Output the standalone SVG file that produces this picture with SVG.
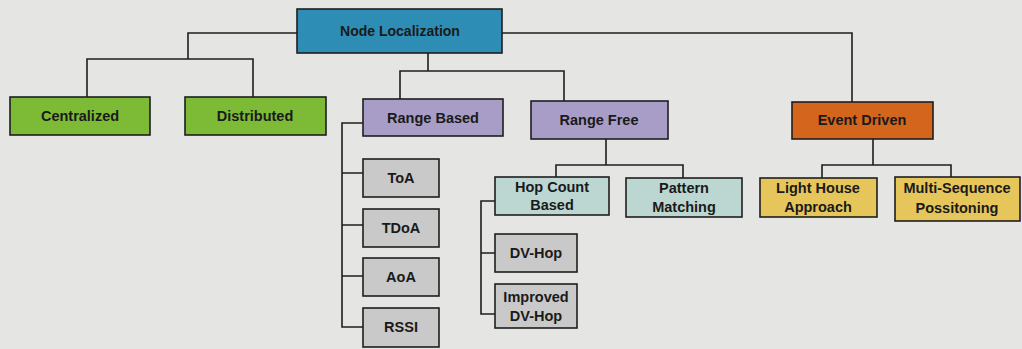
<svg xmlns="http://www.w3.org/2000/svg" width="1022" height="349" viewBox="0 0 1022 349">
<style>
.b{stroke:#1e1e1e;stroke-width:1.6}
.t{font-family:"Liberation Sans",Arial,sans-serif;font-weight:bold;font-size:14.5px;fill:#1a1a1a;text-anchor:middle}
.c{fill:none;stroke:#1e1e1e;stroke-width:1.6}
.blue{fill:#2e8db5}.green{fill:#7dbb36}.purple{fill:#a89dc6}.gray{fill:#c9c9c9}.teal{fill:#bcd6d2}.orange{fill:#d4651c}.yellow{fill:#e6c65a}
</style>
<rect width="1022" height="349" fill="#e5e5e3"/>
<g id="connectors">
<path class="c" d="M297 33H188V59H87V97M188 59H253V97"/>
<path class="c" d="M502 33H852V102"/>
<path class="c" d="M428 53V71H400V99M428 71H564V101"/>
<path class="c" d="M363 123H342V327H363M342 173H363M342 225H363M342 276H363"/>
<path class="c" d="M606 139V165H556V177M606 165H683V178"/>
<path class="c" d="M495 201H481V314H495M481 253H495"/>
<path class="c" d="M873 139V165H822V178M873 165H951V177"/>
</g>
<g id="node-localization"><rect class="b blue" x="297" y="9" width="205" height="44"/><text class="t" x="400" y="36" style="font-size:14px">Node Localization</text></g>
<g id="centralized"><rect class="b green" x="10" y="97" width="140" height="38"/><text class="t" x="80" y="121">Centralized</text></g>
<g id="distributed"><rect class="b green" x="185" y="97" width="141" height="38"/><text class="t" x="255" y="121">Distributed</text></g>
<g id="range-based"><rect class="b purple" x="363" y="99" width="140" height="37"/><text class="t" x="433" y="123">Range Based</text></g>
<g id="range-free"><rect class="b purple" x="531" y="101" width="137" height="38"/><text class="t" x="599" y="125">Range Free</text></g>
<g id="event-driven"><rect class="b orange" x="792" y="102" width="141" height="37"/><text class="t" x="862" y="125">Event Driven</text></g>
<g id="toa"><rect class="b gray" x="363" y="159" width="76" height="38"/><text class="t" x="401" y="183">ToA</text></g>
<g id="tdoa"><rect class="b gray" x="363" y="209" width="76" height="38"/><text class="t" x="401" y="233">TDoA</text></g>
<g id="aoa"><rect class="b gray" x="363" y="258" width="76" height="38"/><text class="t" x="401" y="282">AoA</text></g>
<g id="rssi"><rect class="b gray" x="363" y="308" width="76" height="39"/><text class="t" x="401" y="332">RSSI</text></g>
<g id="hop-count"><rect class="b teal" x="495" y="177" width="114" height="38"/><text class="t" x="552" y="192">Hop Count</text><text class="t" x="552" y="210">Based</text></g>
<g id="pattern"><rect class="b teal" x="626" y="178" width="116" height="39"/><text class="t" x="684" y="193">Pattern</text><text class="t" x="684" y="212">Matching</text></g>
<g id="dv-hop"><rect class="b gray" x="495" y="234" width="82" height="38"/><text class="t" x="536" y="258">DV-Hop</text></g>
<g id="improved-dv-hop"><rect class="b gray" x="495" y="284" width="82" height="44"/><text class="t" x="536" y="302">Improved</text><text class="t" x="536" y="321">DV-Hop</text></g>
<g id="light-house"><rect class="b yellow" x="760" y="178" width="117" height="39"/><text class="t" x="818" y="193">Light House</text><text class="t" x="818" y="212">Approach</text></g>
<g id="multi-sequence"><rect class="b yellow" x="895" y="177" width="125" height="44"/><text class="t" x="957" y="193">Multi-Sequence</text><text class="t" x="957" y="213">Possitoning</text></g>
</svg>
